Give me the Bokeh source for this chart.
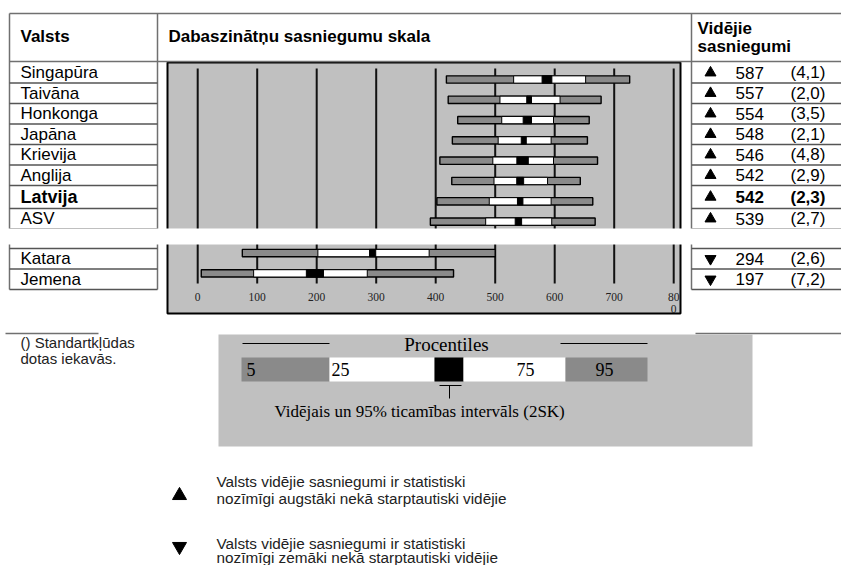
from bokeh.plotting import figure
from bokeh.models import Range1d, ColumnDataSource
from bokeh.embed import file_html
from bokeh.resources import INLINE
from bokeh.core.properties import value

# ---------------- data ----------------
COUNTRIES = ["Singapūra", "Taivāna", "Honkonga", "Japāna", "Krievija",
             "Anglija", "Latvija", "ASV", "Katara", "Jemena"]
MEAN = [587, 557, 554, 548, 546, 542, 542, 539, 294, 197]
SE = [4.1, 2.0, 3.5, 2.1, 4.8, 2.9, 2.3, 2.7, 2.6, 7.2]
P5 = [418, 421, 437, 428, 407, 427, 402, 391, 75, 6]
P25 = [531, 508, 511, 505, 496, 498, 490, 484, 202, 94]
P75 = [652, 609, 598, 594, 598, 588, 594, 595, 389, 285]
P95 = [726, 678, 658, 655, 672, 643, 664, 668, 500, 430]
SIG = ["up", "up", "up", "up", "up", "up", "up", "up", "down", "down"]
HIGHLIGHT = "Latvija"
TICKS = [0, 100, 200, 300, 400, 500, 600, 700, 800]
TICK_LABELS = ["0", "100", "200", "300", "400", "500", "600", "700", "800"]
PCT_LABELS = ["5", "25", "75", "95"]

HEAD_COUNTRY = "Valsts"
HEAD_SCALE = "Dabaszinātņu sasniegumu skala"
HEAD_MEAN = ["Vidējie", "sasniegumi"]
NOTE = ["() Standartkļūdas", "dotas iekavās."]
PCT_TITLE = "Procentiles"
CI_TEXT = "Vidējais un 95% ticamības intervāls (2SK)"
UP_TEXT = ["Valsts vidējie sasniegumi ir statistiski",
           "nozīmīgi augstāki nekā starptautiski vidējie"]
DOWN_TEXT = ["Valsts vidējie sasniegumi ir statistiski",
             "nozīmīgi zemāki nekā starptautiski vidējie"]
N_TOP = 8  # rows shown before the break in the table

# ---------------- layout ----------------
W, H = 841, 565
X0_PX = 197.2          # page x of score 0
PX_PER_UNIT = 0.595
SLOT0_PX = 79.0        # page y of first bar
SLOT_PX = 20.3
GAP = 0.55
BAR_H = 0.36

SANS = value("Liberation Sans")
SERIF = value("Liberation Serif")
LINE_C = "#707070"

p = figure(width=W, height=H, x_range=Range1d(0, W), y_range=Range1d(H, 0),
           output_backend="svg", toolbar_location=None, x_axis_type=None, y_axis_type=None,
           min_border=0, outline_line_color=None, background_fill_color="white",
           border_fill_color="white")
p.extra_x_ranges = {"score": Range1d((0 - X0_PX) / PX_PER_UNIT, (W - X0_PX) / PX_PER_UNIT)}
p.extra_y_ranges = {"slot": Range1d((H - SLOT0_PX) / SLOT_PX, (0 - SLOT0_PX) / SLOT_PX)}

n = len(COUNTRIES)

# table rows
row_tops = []
y = 62.0
for i, c in enumerate(COUNTRIES):
    if i == N_TOP:
        y += 19.5
    h = 23.0 if c == HIGHLIGHT else 20.5
    row_tops.append((y, y + h))
    y += h
row_centers = [(a + b) / 2 for a, b in row_tops]
bounds = sorted(set([b for _, b in row_tops] + [a for a, _ in row_tops[N_TOP:]]))

# plot box
p.quad(left=167, right=680, top=62, bottom=313, fill_color="#c0c0c0",
       line_color="black", line_width=2)

# gridlines
p.segment(x0=TICKS, x1=TICKS, y0=[68] * len(TICKS), y1=[283] * len(TICKS),
          line_color="#111111", line_width=2, x_range_name="score")

# tick labels (last one wraps)
first = [t if i < len(TICK_LABELS) - 1 else t[:2] for i, t in enumerate(TICK_LABELS)]
p.text(x=TICKS, y=[296] * len(TICKS), text=first, text_font=SERIF, text_font_size="11.5px",
       text_align="center", text_baseline="middle", text_color="#222222", x_range_name="score")
p.text(x=[TICKS[-1]], y=[308], text=[TICK_LABELS[-1][2:]], text_font=SERIF, text_font_size="11.5px",
       text_align="center", text_baseline="middle", text_color="#222222", x_range_name="score")

# bars
slots = [i + (GAP if i >= N_TOP else 0) for i in range(n)]
ci_lo = [m - 2 * s for m, s in zip(MEAN, SE)]
ci_hi = [m + 2 * s for m, s in zip(MEAN, SE)]
p.hbar(y=slots, height=BAR_H, left=P5, right=P95, fill_color="#8a8a8a", line_color="black",
       line_width=1.4, x_range_name="score", y_range_name="slot")
p.hbar(y=slots, height=BAR_H, left=P25, right=P75, fill_color="white", line_color="black",
       line_width=1.0, x_range_name="score", y_range_name="slot")
p.hbar(y=slots, height=BAR_H, left=ci_lo, right=ci_hi, fill_color="black", line_color="black",
       line_width=1.0, x_range_name="score", y_range_name="slot")

# table lines
p.segment(x0=[9, 9], x1=[841, 841], y0=[13, 61], y1=[13, 61], line_color=LINE_C, line_width=1.5)
p.segment(x0=[9, 157, 691], x1=[9, 157, 691], y0=[13] * 3, y1=[289] * 3,
          line_color=LINE_C, line_width=1.5)
p.segment(x0=[9] * len(bounds), x1=[157] * len(bounds), y0=bounds, y1=bounds,
          line_color="#555555", line_width=1.3)
p.segment(x0=[691] * len(bounds), x1=[841] * len(bounds), y0=bounds, y1=bounds,
          line_color="#555555", line_width=1.3)

# break band
p.quad(left=0, right=841, top=228, bottom=244, fill_color="white", line_color=None)

# headers
p.text(x=[20, 168], y=[36, 36], text=[HEAD_COUNTRY, HEAD_SCALE], text_font=SANS,
       text_font_size="17px", text_font_style="bold", text_baseline="middle")
p.text(x=[697, 697], y=[28, 46], text=HEAD_MEAN, text_font=SANS,
       text_font_size="17px", text_font_style="bold", text_baseline="middle")

# country names and values
styles = ["bold" if c == HIGHLIGHT else "normal" for c in COUNTRIES]
sizes = ["18px" if c == HIGHLIGHT else "17px" for c in COUNTRIES]
src = ColumnDataSource(dict(
    y=row_centers, name=COUNTRIES, style=styles, size=sizes,
    mean=[str(m) for m in MEAN],
    se=["(" + f"{s:.1f}".replace(".", ",") + ")" for s in SE],
    marker=["triangle" if s == "up" else "inverted_triangle" for s in SIG],
    xm=[710] * n, xn=[20] * n, xv=[735] * n, xs=[790] * n,
))
p.text(x="xn", y="y", text="name", text_font=SANS, text_font_size="size",
       text_font_style="style", text_baseline="middle", source=src)
p.text(x="xv", y="y", text="mean", text_font=SANS, text_font_size="17px",
       text_font_style="style", text_baseline="middle", source=src)
p.text(x="xs", y="y", text="se", text_font=SANS, text_font_size="17px",
       text_font_style="style", text_baseline="middle", source=src)
p.scatter(x="xm", y="y", marker="marker", size=11, fill_color="black", line_color="black",
          source=src)

# note
p.segment(x0=[5, 695], x1=[98, 841], y0=[333, 333], y1=[333, 333], line_color=LINE_C, line_width=1.5)
p.text(x=[20, 20], y=[342, 358], text=NOTE, text_font=SANS, text_font_size="15px",
       text_baseline="middle", text_color="#222222")

# percentile legend
p.quad(left=218, right=752, top=334, bottom=446, fill_color="#c0c0c0", line_color=None)
p.text(x=[446], y=[344], text=[PCT_TITLE], text_font=SERIF, text_font_size="19px",
       text_align="center", text_baseline="middle")
p.segment(x0=[242, 560], x1=[329, 647], y0=[343, 343], y1=[343, 343], line_color="black", line_width=1)
seg_edges = [241, 329, 434, 463, 565, 647]
seg_cols = ["#8a8a8a", "white", "black", "white", "#8a8a8a"]
p.quad(left=seg_edges[:-1], right=seg_edges[1:], top=[357] * 5, bottom=[381] * 5,
       fill_color=seg_cols, line_color=None)
p.text(x=[246, 331, 516, 595], y=[369] * 4, text=PCT_LABELS, text_font=SERIF,
       text_font_size="18px", text_baseline="middle")
p.segment(x0=[439, 449], x1=[461, 449], y0=[385, 385], y1=[385, 398], line_color="black", line_width=1)
p.text(x=[274], y=[411], text=[CI_TEXT], text_font=SERIF, text_font_size="17px",
       text_baseline="middle")

# significance legend
p.scatter(x=[179, 179], y=[495, 546], marker=["triangle", "inverted_triangle"], size=14,
          fill_color="black", line_color="black")
p.text(x=[216] * 4, y=[481, 498, 543, 557], text=UP_TEXT + DOWN_TEXT, text_font=SANS,
       text_font_size="15.3px", text_baseline="middle", text_color="#222222")

open("out.html", "w").write(file_html(p, INLINE))
